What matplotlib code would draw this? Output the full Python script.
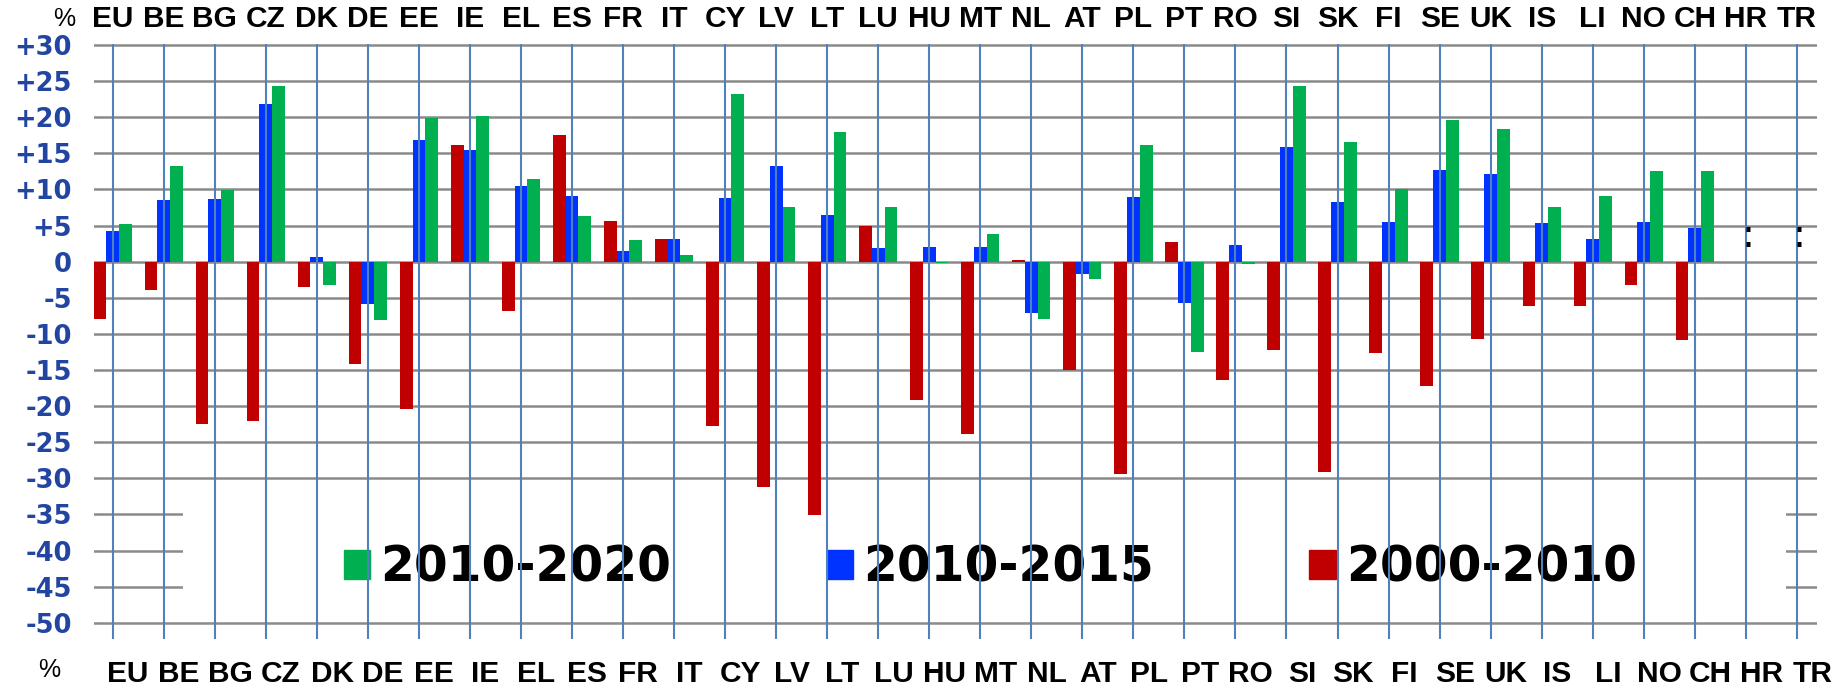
import numpy as np
import matplotlib
matplotlib.use('Agg')
import matplotlib.pyplot as plt
from matplotlib.patches import Patch, Rectangle
from matplotlib.transforms import blended_transform_factory

# Data (% change)
countries = ['EU', 'BE', 'BG', 'CZ', 'DK', 'DE', 'EE', 'IE', 'EL', 'ES', 'FR', 'IT',
             'CY', 'LV', 'LT', 'LU', 'HU', 'MT', 'NL', 'AT', 'PL', 'PT', 'RO', 'SI',
             'SK', 'FI', 'SE', 'UK', 'IS', 'LI', 'NO', 'CH', 'HR', 'TR']
chg_2000_2010 = [-7.9, -3.9, -22.5, -22.0, -3.5, -14.2, -20.4, 16.1, -6.9, 17.6, 5.6, 3.2,
                 -22.8, -31.2, -35.1, 4.9, -19.2, -23.8, 0.2, -15.0, -29.4, 2.7, -16.4, -12.2,
                 -29.1, -12.6, -17.2, -10.7, -6.2, -6.1, -3.3, -10.9, np.nan, np.nan]
chg_2010_2015 = [4.2, 8.6, 8.7, 21.8, 0.6, -5.9, 16.9, 15.4, 10.5, 9.1, 1.5, 3.2,
                 8.8, 13.2, 6.4, 1.9, 2.0, 2.0, -7.1, -1.7, 8.9, -5.7, 2.3, 15.9,
                 8.3, 5.5, 12.7, 12.2, 5.4, 3.1, 5.5, 4.7, np.nan, np.nan]
chg_2010_2020 = [5.2, 13.3, 9.9, 24.3, -3.3, -8.1, 19.9, 20.2, 11.4, 6.3, 3.0, 0.9,
                 23.2, 7.6, 18.0, 7.6, -0.2, 3.8, -7.9, -2.4, 16.2, -12.5, -0.3, 24.3,
                 16.5, 10.0, 19.6, 18.3, 7.6, 9.1, 12.5, 12.5, np.nan, np.nan]
y_ticks = list(range(-50, 31, 5))

RED, BLUE, GREEN = '#C00000', '#0033FF', '#00B050'
label_font = ['Liberation Sans Narrow', 'Liberation Sans', 'DejaVu Sans']

fig = plt.figure(figsize=(18.41, 6.88), dpi=100)
ax = fig.add_axes([0.0511, 0.0717, 0.9360, 0.8650])

idx = np.arange(len(countries))
w = 0.25
ax.bar(idx - w, chg_2000_2010, w, color=RED, zorder=2)
ax.bar(idx, chg_2010_2015, w, color=BLUE, zorder=2)
ax.bar(idx + w, chg_2010_2020, w, color=GREEN, zorder=2)

# vertical category lines sit in front of the bars
for x in idx:
    ax.axvline(x, color='#4F81BD', lw=1.5, zorder=3)

# ':' for not available
for i in idx:
    if np.isnan(chg_2000_2010[i]) and np.isnan(chg_2010_2015[i]):
        ax.text(i + 0.05, 3.6, ':', ha='center', va='center', fontsize=28,
                color='black', zorder=4)

ax.set_xlim(-0.365, 33.4)
ax.set_ylim(-52.2, 30.2)

ax.set_yticks(y_ticks, [f'+{v}' if v > 0 else str(v) for v in y_ticks],
              fontsize=18.5, fontweight='bold', color='#2145A0')
ax.grid(axis='y', color='#8a8a8a', lw=1.8)
ax.set_axisbelow(True)
ax.tick_params(axis='y', length=0, pad=16)

ax.set_xticks(idx, countries, fontsize=21.5, fontweight='bold', family=label_font)
ax.tick_params(axis='x', length=0, bottom=False, labelbottom=False,
               top=False, labeltop=True, pad=7.5)

sec = ax.secondary_xaxis('bottom')
sec.set_xticks(idx + 0.3, countries, fontsize=21.5, fontweight='bold', family=label_font)
sec.tick_params(length=0, pad=15)
for s in sec.spines.values():
    s.set_visible(False)

for s in ax.spines.values():
    s.set_visible(False)

# white box behind the legend hides the lower gridlines
trans = blended_transform_factory(ax.transAxes, ax.transData)
ax.add_patch(Rectangle((0.0516, -47.5), 0.9302, 15.0, transform=trans,
                       facecolor='white', edgecolor='none', zorder=1.5))

handles = [Patch(color=GREEN), Patch(color=BLUE), Patch(color=RED)]
leg = ax.legend(handles, ['2010-2020', '2010-2015', '2000-2010'], ncol=3,
                frameon=False, loc='center', bbox_to_anchor=(0.5200, 0.119),
                prop={'size': 35, 'weight': 'bold', 'family': 'DejaVu Sans'},
                handlelength=0.55, handleheight=0.55, handletextpad=0.2,
                columnspacing=3.2)
leg.set_zorder(2.5)

fig.text(64 / 1841, 1 - 18.5 / 688, '%', ha='center', va='center',
         fontsize=18, family='Liberation Sans')
fig.text(49 / 1841, 1 - 670 / 688, '%', ha='center', va='center',
         fontsize=18, family='Liberation Sans')

fig.savefig('out.png', dpi=100)
